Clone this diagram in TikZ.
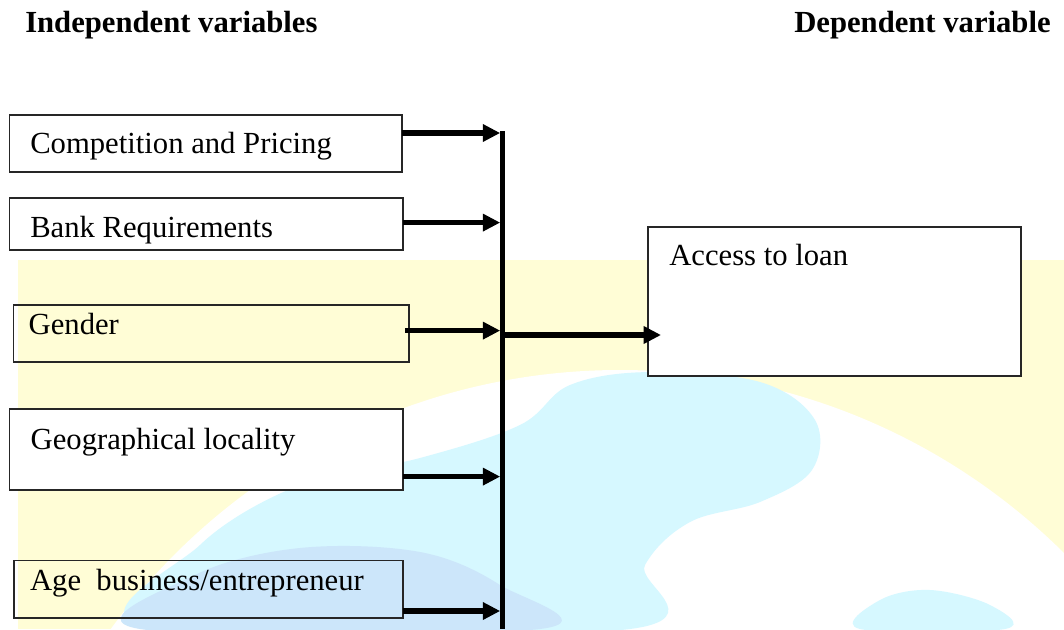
\documentclass[tikz,border=0pt]{standalone}
\usepackage{fontspec}
\setmainfont{Liberation Serif}
\usetikzlibrary{arrows.meta,calc}
\definecolor{bgyellow}{RGB}{255,253,214}
\definecolor{bgcyan}{RGB}{214,248,255}
\definecolor{bgblue}{RGB}{204,230,250}
\begin{document}
\begin{tikzpicture}[x=0.75pt,y=-0.75pt,
  box/.style={draw=black!85,line width=1.1pt,anchor=north west,inner sep=0pt,outer sep=0pt},
  wbox/.style={box,fill=white},
  lbl/.style={anchor=base west,inner sep=0pt,font=\fontsize{23}{27}\selectfont},
  hdr/.style={anchor=base west,inner sep=0pt,font=\fontsize{23}{27}\selectfont\bfseries},
  arr/.style={line width=3.8pt,-{Triangle[length=13pt,width=12.5pt]}}]
\useasboundingbox (0,0) rectangle (1064,629);
% background watermark
\fill[bgyellow] (18,260) rectangle (1064,629);
\fill[white] (620,1000) circle[radius=630*0.75pt];
\fill[bgcyan] plot[smooth cycle,tension=0.6] coordinates {(150,629) (200,545) (300,485) (420,458) (520,425) (570,385) (650,372) (760,382) (815,420) (812,470) (760,502) (690,522) (645,565) (630,629)};
\fill[bgblue] plot[smooth cycle,tension=0.6] coordinates {(140,629) (195,575) (300,548) (420,552) (500,585) (540,629)};
\fill[bgcyan] plot[smooth cycle,tension=0.6] coordinates {(860,629) (880,600) (930,590) (990,605) (1005,629)};
% headers
\node[hdr] (hind) at (25,32) {Independent variables};
\node[hdr] (hdep) at (794,32) {Dependent variable};
% boxes
\node[wbox,minimum width={392.5*0.75pt},minimum height={57*0.75pt}] (comp) at (9.5,115) {};
\node[wbox,minimum width={393.4*0.75pt},minimum height={52*0.75pt}] (bank) at (9.6,198) {};
\node[box,minimum width={395.5*0.75pt},minimum height={57*0.75pt}] (gender) at (13.5,305) {};
\node[wbox,minimum width={393.5*0.75pt},minimum height={81*0.75pt}] (geo) at (9.5,409) {};
\node[box,minimum width={389*0.75pt},minimum height={57.5*0.75pt}] (age) at (14,560.5) {};
\node[wbox,minimum width={373*0.75pt},minimum height={149*0.75pt}] (access) at (648,227) {};
% labels
\node[lbl] (tcomp) at (30,153.6) {Competition and Pricing};
\node[lbl] (tbank) at (30,237.5) {Bank Requirements};
\node[lbl] (tgender) at (28.4,334.7) {Gender};
\node[lbl] (tgeo) at (30.4,449.6) {Geographical locality};
\node[lbl] (tage) at (29.8,590) {Age\ \ business/entrepreneur};
\node[lbl] (taccess) at (669,265.5) {Access to loan};
% bus
\coordinate (bustop) at (502.7,131);
\coordinate (busbot) at (502.7,629);
\draw[line width=3.8pt] (bustop) -- (busbot);
\coordinate (b1) at (500.2,133);
\coordinate (b2) at (500.2,222.6);
\coordinate (b3) at (500.2,330.6);
\coordinate (b4) at (500.2,476.6);
\coordinate (b5) at (500.2,611);
\coordinate (bout) at (502.7,335);
\coordinate (tip) at (661,335);
\draw[arr] (comp.east |- b1) -- (b1);
\draw[arr] (bank.east |- b2) -- (b2);
\draw[arr] ([xshift=-3pt]gender.east |- b3) -- (b3);
\draw[arr] (geo.east |- b4) -- (b4);
\draw[arr] (age.east |- b5) -- (b5);
\draw[arr] (bout) -- (tip);
\end{tikzpicture}
\end{document}
